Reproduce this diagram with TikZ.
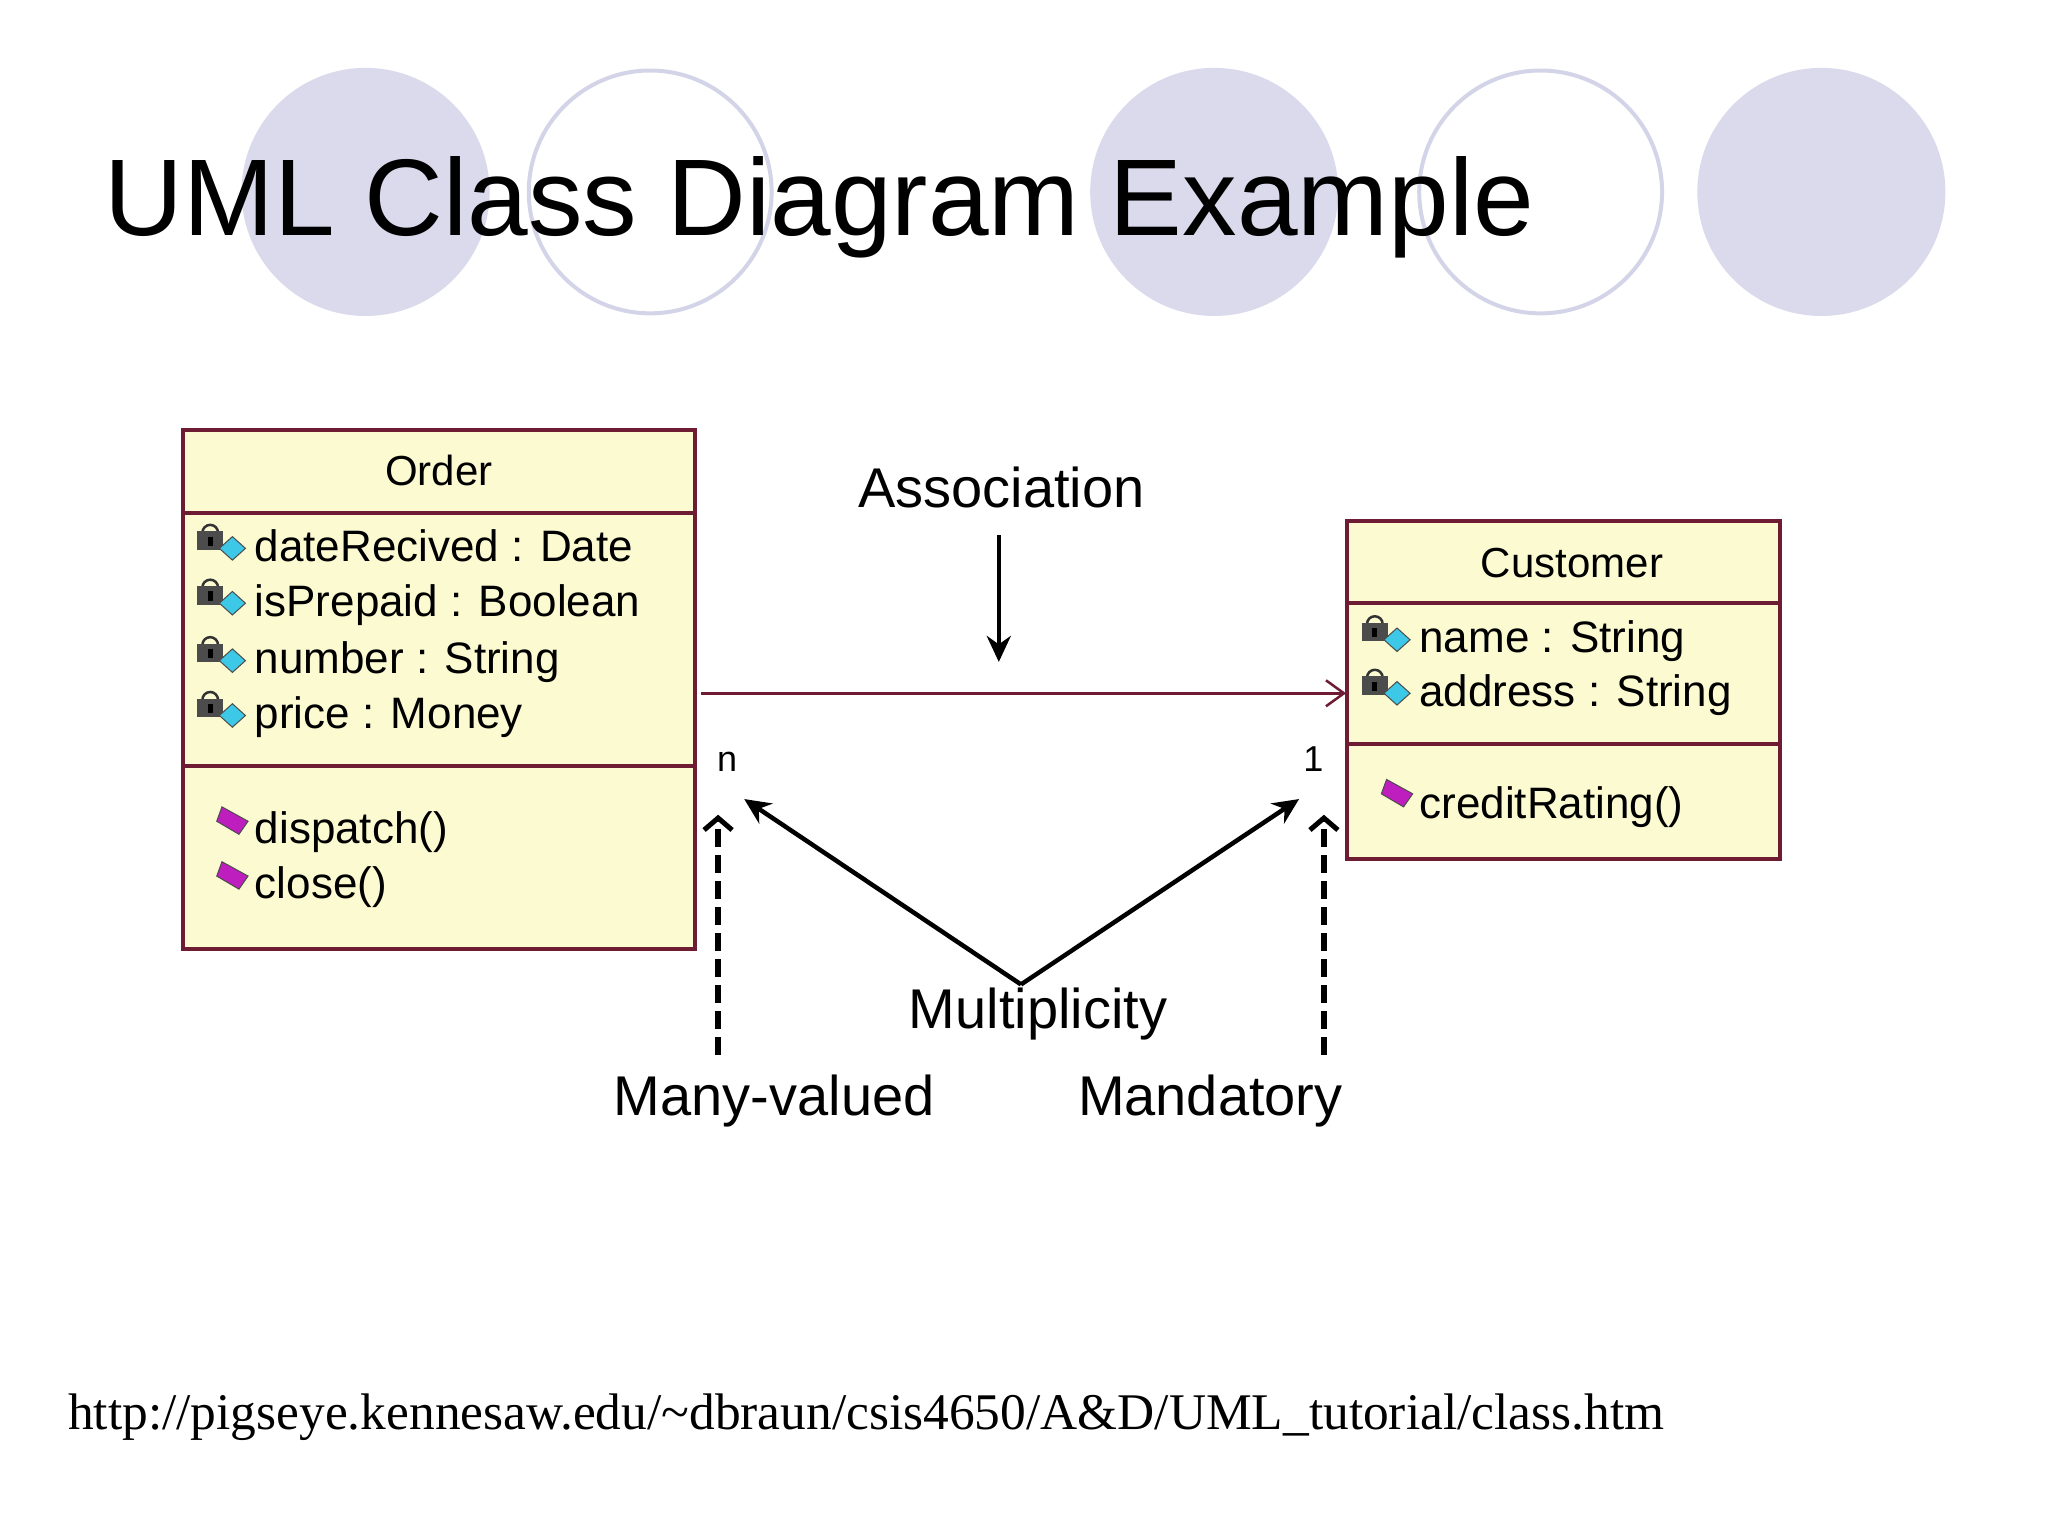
\documentclass[tikz,border=0pt]{standalone}
\usepackage{fontspec}
\setmainfont{Liberation Sans}
\newfontfamily\urlf{Liberation Serif}
\usetikzlibrary{arrows.meta}
\definecolor{lav}{RGB}{218,218,236}
\definecolor{lavl}{RGB}{212,212,232}
\definecolor{boxf}{RGB}{252,250,208}
\definecolor{boxd}{RGB}{110,28,52}
\definecolor{cy}{RGB}{60,200,230}
\definecolor{mg}{RGB}{190,30,190}
\newcommand{\fsz}[1]{\fontsize{#1pt}{#1pt}\selectfont}
\begin{document}
\begin{tikzpicture}[x=1.3056pt,y=-1.3056pt,
  cls/.style={draw=boxd,fill=boxf,line width=4pt},
  txt/.style={anchor=base west,inner sep=0pt,font=\fsz{44}},
  lbl/.style={anchor=base,inner sep=0pt,font=\fsz{56}},
  blk/.style={line width=4.5pt,-{Stealth[length=26pt,width=24pt]}},
  dsh/.style={line width=6.5pt,dash pattern=on 18pt off 8pt,-{Straight Barb[length=12pt,width=28pt,line width=5pt]}}]
\useasboundingbox (0,0) rectangle (1568.6,1176.4);
\fill[white] (0,0) rectangle (1568.6,1176.4);
% circles
\foreach \cx in {280,930,1395} \fill[lav] (\cx,147) circle (95);
\foreach \cx in {498,1180} \draw[lavl,line width=4pt] (\cx,147) circle (93);
\node[anchor=base west,inner sep=0pt,font=\fsz{109}] (title) at (80,180) {UML Class Diagram Example};
% Order
\draw[cls] (140,329) rectangle (532,727);
\draw[boxd,line width=4pt] (140,393) -- (532,393) (140,587) -- (532,587);
\node[anchor=base,inner sep=0pt,font=\fsz{42}] (order) at (336,372) {Order};
\foreach \yy/\t/\n in {430/dateRecived : Date/a1,472/isPrepaid : Boolean/a2,516/number : String/a3,558/price : Money/a4}{
  \node[txt] (\n) at (195,\yy) {\t};
  \draw[black!80,line width=2.5pt] (155,\yy-22) arc (180:360:6);
  \fill[gray!60!black] (151,\yy-23) rectangle (171,\yy-9);
  \fill[black] (159,\yy-19) rectangle (163,\yy-12);
  \fill[cy,draw=black!70,line width=1pt] (178,\yy-19) -- (188,\yy-10) -- (178,\yy-1) -- (168,\yy-10) -- cycle;
}
\foreach \yy/\t/\n in {646/dispatch()/m1,688/close()/m2}{
  \node[txt] (\n) at (195,\yy) {\t};
  \fill[mg,draw=black!70,line width=1pt] (170,\yy-28) -- (190,\yy-17) -- (183,\yy-7) -- (166,\yy-17) -- cycle;
}
% Customer
\draw[cls] (1032,399) rectangle (1363,658);
\draw[boxd,line width=4pt] (1032,462) -- (1363,462) (1032,570) -- (1363,570);
\node[anchor=base,inner sep=0pt,font=\fsz{42}] (cust) at (1204,442) {Customer};
\foreach \yy/\t/\n in {500/name : String/b1,541/address : String/b2}{
  \node[txt] (\n) at (1087,\yy) {\t};
  \draw[black!80,line width=2.5pt] (1047,\yy-22) arc (180:360:6);
  \fill[gray!60!black] (1043,\yy-23) rectangle (1063,\yy-9);
  \fill[black] (1051,\yy-19) rectangle (1055,\yy-12);
  \fill[cy,draw=black!70,line width=1pt] (1070,\yy-19) -- (1080,\yy-10) -- (1070,\yy-1) -- (1060,\yy-10) -- cycle;
}
\node[txt] (cr) at (1087,627) {creditRating()};
\fill[mg,draw=black!70,line width=1pt] (1062,597) -- (1082,608) -- (1075,618) -- (1058,608) -- cycle;
% association
\coordinate (aS) at (537,531);
\coordinate (aE) at (1031,531);
\draw[boxd,line width=3.5pt,-{Straight Barb[length=18pt,width=26pt,line width=2.5pt]}] (aS) -- (aE);
\node[anchor=base,inner sep=0pt,font=\fsz{36}] (nn) at (557,591) {n};
\node[anchor=base,inner sep=0pt,font=\fsz{36}] (one) at (1006,591) {1};
\node[lbl] (assoc) at (767,389) {Association};
\coordinate (aF) at (765,410);
\coordinate (aT) at (765,507);
\draw[blk] (aF) -- (aT);
\node[lbl] (mult) at (795,788) {Multiplicity};
\coordinate (mv) at (782,754);
\coordinate (mL) at (570,612);
\coordinate (mR) at (995,612);
\draw[blk] (mv) -- (mL);
\draw[blk] (mv) -- (mR);
\node[lbl] (many) at (593,854) {Many-valued};
\node[lbl] (mand) at (927,854) {Mandatory};
\coordinate (d1a) at (550,808); \coordinate (d1b) at (550,624);
\coordinate (d2a) at (1014,808); \coordinate (d2b) at (1014,624);
\draw[dsh] (d1a) -- (d1b);
\draw[dsh] (d2a) -- (d2b);
\node[anchor=base west,inner sep=0pt,font=\urlf\fsz{51.4}] (url) at (52,1095) {http://pigseye.kennesaw.edu/\textasciitilde dbraun/csis4650/A\&D/UML\_tutorial/class.htm};
\end{tikzpicture}
\end{document}
